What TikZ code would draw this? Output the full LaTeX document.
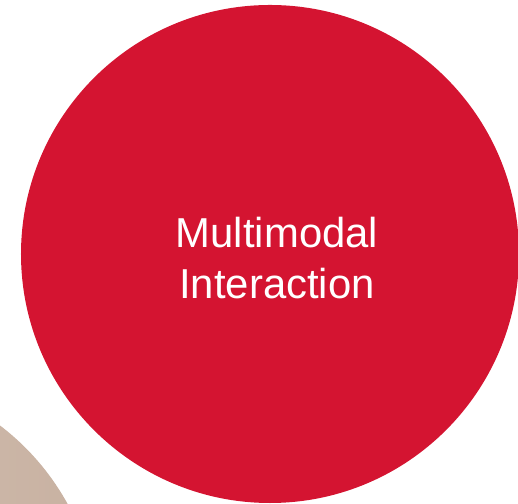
\documentclass[tikz,border=0pt]{standalone}
\usepackage{fontspec}
\setmainfont{Liberation Sans}
\usetikzlibrary{positioning}
\definecolor{mmred}{HTML}{D41431}
\definecolor{sandlight}{HTML}{D6C6BA}
\definecolor{sanddark}{HTML}{C8B1A1}

\begin{document}
\begin{tikzpicture}[x=1bp,y=1bp,blob/.style={circle,inner sep=0pt,draw=none},
  txt/.style={text=white,align=center,font=\fontsize{42}{50.4}\selectfont}]

  \useasboundingbox (0,0) rectangle (518,504);
  \clip (0,0) rectangle (518,504);

  \node[blob,minimum size=496bp,left color=sandlight,right color=sanddark] (sand) at (-150,-119) {};
  \node[blob,minimum size=498bp,fill=mmred] (mm) at (270,250) {};
  \node[txt] (mmt) at (277,246) {Multimodal\\Interaction};

\end{tikzpicture}
\end{document}
